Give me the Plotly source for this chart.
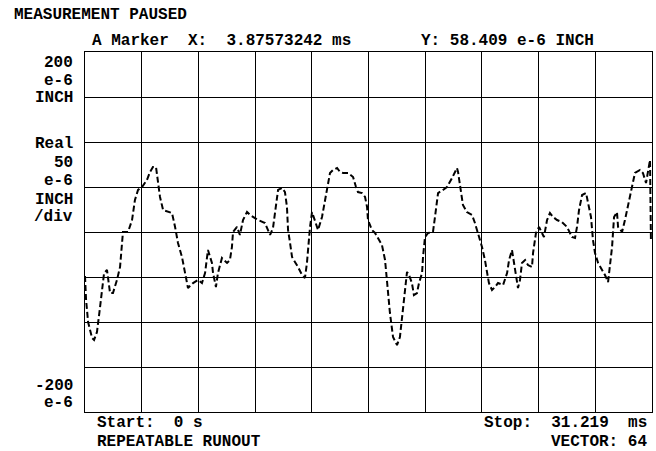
import plotly.graph_objects as go

# ---- data (time in ms, displacement in e-6 INCH) ----
time_ms = [
    0.00, 0.06, 0.17, 0.39, 0.50, 0.66, 0.83, 0.94, 1.05, 1.21, 1.38, 1.54, 1.76, 1.93, 2.04, 2.09,
    2.37, 2.59, 2.75, 2.92, 3.14, 3.41, 3.58, 3.74, 3.91, 4.02, 4.13, 4.30, 4.57, 4.79, 4.96, 5.12,
    5.34, 5.51, 5.67, 5.95, 6.22, 6.44, 6.61, 6.77, 6.99, 7.05, 7.21, 7.32, 7.54, 7.82, 7.98, 8.09,
    8.15, 8.37, 8.53, 8.70, 8.92, 9.09, 9.25, 9.53, 9.91, 10.19, 10.35, 10.46, 10.63, 10.85, 11.01,
    11.12, 11.18, 11.29, 11.40, 11.56, 11.73, 11.95, 12.11, 12.22, 12.28, 12.39, 12.50, 12.66, 12.83,
    13.05, 13.21, 13.38, 13.49, 13.66, 13.88, 14.04, 14.21, 14.48, 14.76, 14.92, 15.03, 15.25, 15.42,
    15.53, 15.58, 15.80, 15.97, 16.13, 16.35, 16.52, 16.63, 16.79, 16.96, 17.18, 17.34, 17.51, 17.62,
    17.73, 17.84, 18.00, 18.11, 18.28, 18.39, 18.56, 18.61, 18.72, 18.89, 19.16, 19.27, 19.44, 19.71,
    19.93, 20.21, 20.48, 20.54, 20.65, 20.81, 21.03, 21.31, 21.47, 21.64, 21.86, 22.02, 22.13, 22.24,
    22.41, 22.58, 22.74, 23.02, 23.24, 23.35, 23.51, 23.62, 23.73, 23.84, 23.95, 24.06, 24.23, 24.39,
    24.61, 24.67, 24.83, 25.00, 25.16, 25.27, 25.44, 25.60, 25.77, 25.99, 26.26, 26.54, 26.81, 26.98,
    27.09, 27.20, 27.37, 27.59, 27.70, 27.86, 27.97, 28.08, 28.25, 28.47, 28.63, 28.80, 28.91, 29.02,
    29.13, 29.29, 29.35, 29.57, 29.73, 29.90, 30.12, 30.28, 30.56, 30.72, 30.89, 31.00, 31.11, 31.16,
]
runout = [
    -48.9, -75.6, -100.0, -117.8, -120.0, -111.0, -83.3, -64.4, -45.6, -42.2, -67.8, -67.8, -53.3, -38.9, -16.7, 0.0,
    0.0, 13.3, 35.6, 46.7, 50.0, 57.8, 66.7, 72.2, 72.2, 54.4, 38.9, 24.4, 22.2, 21.1, 5.6, -12.2,
    -27.8, -45.6, -62.2, -56.7, -53.3, -56.7, -45.6, -20.0, -34.4, -45.6, -61.1, -45.6, -28.9, -34.4, -31.1, -16.7,
    0.0, 5.6, -3.3, 13.3, 22.2, 18.9, 16.7, 13.3, 10.0, -3.3, 4.4, 21.1, 46.7, 48.9, 44.4,
    27.8, 2.2, -12.2, -27.8, -33.3, -38.9, -47.8, -51.1, -34.4, -16.7, 5.6, 22.2, 13.3, 2.2,
    16.7, 35.6, 54.4, 65.6, 68.9, 71.1, 66.7, 65.6, 65.6, 61.1, 50.0, 44.4, 43.3, 38.9,
    27.8, 13.3, 2.2, -1.1, -6.7, -14.4, -31.1, -56.7, -90.0, -116.7, -125.6, -116.7, -86.7, -61.1,
    -44.4, -47.8, -56.7, -70.0, -67.8, -56.7, -45.6, -27.8, -5.6, -1.1, 0.0, 16.7, 43.3, 46.7,
    50.0, 60.0, 71.1, 66.7, 50.0, 30.0, 22.2, 18.9, 10.0, -1.1, -16.7, -31.1, -45.6, -56.7,
    -64.4, -61.1, -56.7, -58.9, -45.6, -31.1, -20.0, -34.4, -45.6, -62.2, -53.3, -34.4, -31.1, -36.7,
    -38.9, -23.3, -1.1, 5.6, -1.1, -5.6, 13.3, 21.1, 16.7, 13.3, 11.1, 5.6, -5.6, -6.7,
    5.6, 24.4, 41.1, 43.3, 32.2, 16.7, -8.9, -23.3, -34.4, -42.2, -47.8, -55.6, -38.9, -16.7,
    16.7, 22.2, 5.6, 0.0, 13.3, 30.0, 50.0, 65.6, 68.9, 65.6, 54.4, 66.7, 80.0, -8.9,
]

x_start, x_stop = 0.0, 31.219
y_min, y_max, y_div = -200, 200, 50

W, H = 656, 451
L, R, T, B = 85, 4, 52, 39
pw, ph = W - L - R, H - T - B

def px(x):
    return (x - L) / pw

def py(y):
    return (H - B - y) / ph

NB = "\u00a0"
font = dict(family="Liberation Mono, Courier New, monospace", size=16, color="black")

fig = go.Figure()
fig.add_trace(go.Scatter(
    x=time_ms, y=runout, mode="lines",
    line=dict(color="black", width=2, dash="6px,3px"),
    hoverinfo="skip", showlegend=False,
))

annots = []
def txt(s, x, y, anchor="left"):
    annots.append(dict(text="<b>" + s.replace(" ", NB) + "</b>", x=px(x), y=py(y),
                       xref="paper", yref="paper", xanchor=anchor, yanchor="middle",
                       showarrow=False, font=font))

txt("MEASUREMENT PAUSED", 12, 15)
txt("A Marker  X:  3.87573242 ms", 90, 41)
txt("Y: 58.409 e-6 INCH", 419, 41)
for s, y in [("200", 63), ("e-6", 81), ("INCH", 98), ("Real", 144), ("50", 163),
             ("e-6", 181), ("INCH", 200), ("/div", 217), ("-200", 386), ("e-6", 403)]:
    txt(s, 75, y, "right")
txt("Start:  0 s", 95, 423)
txt("REPEATABLE RUNOUT", 95, 442)
txt("Stop:  31.219  ms", 649, 423, "right")
txt("VECTOR: 64", 649, 442, "right")

fig.update_layout(
    width=W, height=H,
    margin=dict(l=L, r=R, t=T, b=B),
    paper_bgcolor="white", plot_bgcolor="white",
    annotations=annots,
    showlegend=False,
)
fig.update_xaxes(range=[x_start, x_stop], tick0=x_start, dtick=(x_stop - x_start) / 10,
                 showgrid=True, gridcolor="black", gridwidth=1, zeroline=False,
                 showline=True, linecolor="black", linewidth=1, mirror=True,
                 showticklabels=False, ticks="", fixedrange=True)
fig.update_yaxes(range=[y_min, y_max], tick0=y_min, dtick=y_div,
                 showgrid=True, gridcolor="black", gridwidth=1, zeroline=False,
                 showline=True, linecolor="black", linewidth=1, mirror=True,
                 showticklabels=False, ticks="", fixedrange=True)

fig.write_html("out.html", config={"displayModeBar": False},
               post_script="document.body.style.margin='0';document.body.style.overflow='hidden';")
